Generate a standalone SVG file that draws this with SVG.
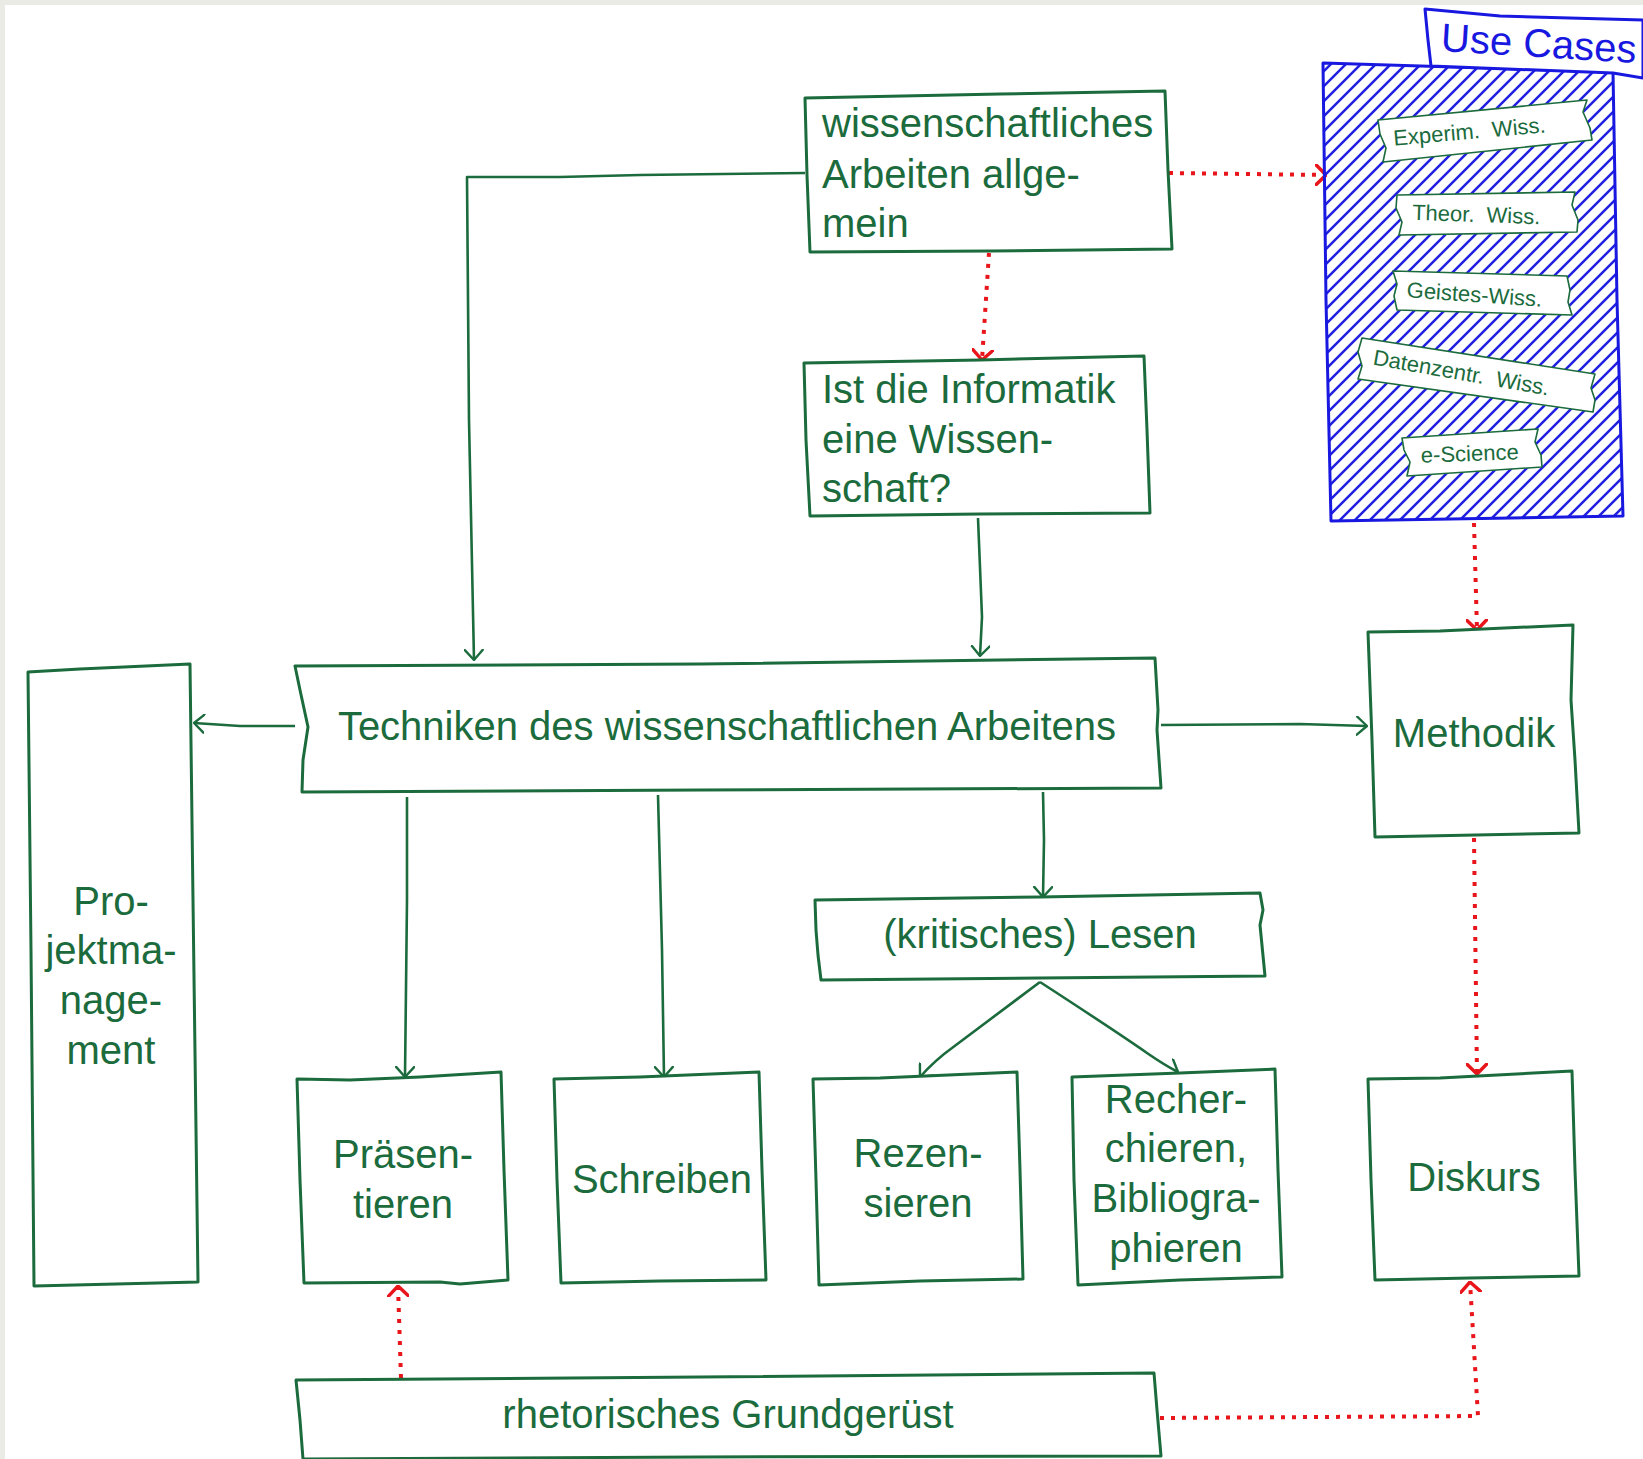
<svg xmlns="http://www.w3.org/2000/svg" width="1643" height="1459" viewBox="0 0 1643 1459">
<style>
.box{fill:#fff;stroke:#1b6b3d;stroke-width:3;stroke-linejoin:round}
.ban{fill:#fff;stroke:#1b6b3d;stroke-width:1.6;stroke-linejoin:round}
.lbl{font-family:"Liberation Sans",Arial,Helvetica,sans-serif;font-size:40px;fill:#1b6b3d}
.sm{font-family:"Liberation Sans",Arial,Helvetica,sans-serif;font-size:22px;fill:#1b6b3d;word-spacing:6px}
.mid{text-anchor:middle}
.conn{fill:none;stroke:#1b6b3d;stroke-width:2.6;stroke-linejoin:round}
.dot{fill:none;stroke:#e8151b;stroke-width:4;stroke-dasharray:4 7}
</style>
<defs>
<marker id="ag" markerUnits="userSpaceOnUse" viewBox="0 0 12 20" refX="11" refY="10" markerWidth="12" markerHeight="20" orient="auto">
<path d="M1,1 L11,10 L1,19" fill="none" stroke="#1b6b3d" stroke-width="2.4" stroke-linecap="round" stroke-linejoin="round"/>
</marker>
<marker id="ar" markerUnits="userSpaceOnUse" viewBox="0 0 12 22" refX="11" refY="11" markerWidth="12" markerHeight="22" orient="auto">
<path d="M1,1 L11,11 L1,21" fill="none" stroke="#e8151b" stroke-width="3.4" stroke-linecap="round" stroke-linejoin="round"/>
</marker>
<pattern id="hatch" patternUnits="userSpaceOnUse" width="15" height="15">
<path d="M-1,16 L16,-1 M-3,3 L3,-3 M12,18 L18,12" stroke="#2020e0" stroke-width="2.5"/>
</pattern>
</defs>
<rect width="1643" height="1459" fill="#ebebe6"/>
<rect x="5" y="5" width="1638" height="1454" fill="#ffffff"/>

<g id="connectors">
<path class="conn" d="M805,173 L640,175 L560,177 L467,177 L469,420 L474,660" marker-end="url(#ag)"/>
<path class="conn" d="M978,518 L982,617 L980,656" marker-end="url(#ag)"/>
<path class="conn" d="M295,726 L240,726 L194,723" marker-end="url(#ag)"/>
<path class="conn" d="M1161,725 L1300,724 L1367,726" marker-end="url(#ag)"/>
<path class="conn" d="M407,797 L407,900 L405,1077" marker-end="url(#ag)"/>
<path class="conn" d="M658,795 L662,950 L664,1077" marker-end="url(#ag)"/>
<path class="conn" d="M1043,792 L1044,840 L1043,897" marker-end="url(#ag)"/>
<path class="conn" d="M1040,982 C1000,1012 968,1036 952,1048 C938,1058 928,1068 920,1077" marker-end="url(#ag)"/>
<path class="conn" d="M1040,982 C1080,1008 1120,1034 1147,1053 C1160,1062 1170,1068 1178,1072" marker-end="url(#ag)"/>
<path class="dot" d="M989,253 L982,360" marker-end="url(#ar)"/>
<path class="dot" d="M1169,173 L1326,175" marker-end="url(#ar)"/>
<path class="dot" d="M1474,523 L1477,630" marker-end="url(#ar)"/>
<path class="dot" d="M1474,838 L1477,1074" marker-end="url(#ar)"/>
<path class="dot" d="M401,1378 L398,1286" marker-end="url(#ar)"/>
<path class="dot" d="M1160,1418 L1478,1416 L1470,1282" marker-end="url(#ar)"/>
</g>

<g id="usecases">
<path d="M1323,63 L1613,72 L1617,300 L1623,516 L1331,521 L1326,300 Z" fill="url(#hatch)" stroke="#1818e0" stroke-width="3" stroke-linejoin="round"/>
<path d="M1425,9 L1500,16 L1643,20 L1643,78 L1613,73 L1431,66 L1428,40 Z" fill="#fff" stroke="#1818e0" stroke-width="3" stroke-linejoin="round"/>
<text x="1538" y="57" font-family="'Liberation Sans',Arial,Helvetica,sans-serif" font-size="40" fill="#1818e0" text-anchor="middle" transform="rotate(3.5 1538 57)">Use Cases</text>
</g>
<g id="uc1">
<path class="ban" d="M1378,120 L1587,100 L1583,112 L1590,128 L1592,140 L1383,162 L1386,148 L1380,134 Z"/>
<text class="sm mid" x="1470" y="139" transform="rotate(-5 1470 139)">Experim. Wiss.</text>
</g>
<g id="uc2">
<path class="ban" d="M1397,195 L1575,192 L1572,205 L1578,220 L1577,232 L1399,235 L1402,222 L1396,208 Z"/>
<text class="sm mid" x="1476" y="222" transform="rotate(2 1476 222)">Theor. Wiss.</text>
</g>
<g id="uc3">
<path class="ban" d="M1393,271 L1567,276 L1570,290 L1568,302 L1572,315 L1397,310 L1394,296 L1397,284 Z"/>
<text class="sm mid" x="1474" y="302" transform="rotate(4 1474 302)" style="word-spacing:0">Geistes-Wiss.</text>
</g>
<g id="uc4">
<path class="ban" d="M1362,338 L1595,374 L1591,388 L1595,400 L1593,412 L1358,379 L1362,366 L1358,352 Z"/>
<text class="sm mid" x="1460" y="380" transform="rotate(10 1460 380)">Datenzentr. Wiss.</text>
</g>
<g id="uc5">
<path class="ban" d="M1402,438 L1538,429 L1535,442 L1541,455 L1542,467 L1407,476 L1410,462 L1404,450 Z"/>
<text class="sm mid" x="1470" y="461" transform="rotate(-2 1470 461)" style="word-spacing:0">e-Science</text>
</g>

<g id="wiss">
<path class="box" d="M805,98 L1000,94 L1165,91 L1168,170 L1172,249 L990,251 L810,252 L807,175 Z"/>
<text class="lbl" x="822" y="137">wissenschaftliches</text>
<text class="lbl" x="822" y="188">Arbeiten allge-</text>
<text class="lbl" x="822" y="237">mein</text>
</g>
<g id="informatik">
<path class="box" d="M804,363 L980,360 L1144,356 L1147,430 L1150,513 L980,514 L810,516 L806,440 Z"/>
<text class="lbl" x="822" y="403">Ist die Informatik</text>
<text class="lbl" x="822" y="453">eine Wissen-</text>
<text class="lbl" x="822" y="502">schaft?</text>
</g>
<g id="techniken">
<path class="box" d="M295,666 L700,664 L1155,658 L1158,710 L1157,730 L1161,788 L700,790 L302,792 L303,760 L308,727 L300,690 Z"/>
<text class="lbl mid" x="727" y="740">Techniken des wissenschaftlichen Arbeitens</text>
</g>
<g id="projekt">
<path class="box" d="M28,672 L80,669 L190,664 L193,900 L198,1282 L34,1286 L31,950 Z"/>
<text class="lbl mid" x="111" y="915">Pro-</text>
<text class="lbl mid" x="111" y="964">jektma-</text>
<text class="lbl mid" x="111" y="1014">nage-</text>
<text class="lbl mid" x="111" y="1064">ment</text>
</g>
<g id="methodik">
<path class="box" d="M1368,632 L1440,631 L1573,625 L1571,700 L1575,760 L1579,833 L1375,837 L1372,740 Z"/>
<text class="lbl mid" x="1474" y="747">Methodik</text>
</g>
<g id="lesen">
<path class="box" d="M815,900 L1040,897 L1260,893 L1263,910 L1260,925 L1265,976 L1040,978 L821,980 L818,955 L816,930 Z"/>
<text class="lbl mid" x="1040" y="948">(kritisches) Lesen</text>
</g>
<g id="praesentieren">
<path class="box" d="M297,1079 L350,1080 L420,1077 L501,1072 L504,1170 L508,1280 L460,1284 L440,1282 L304,1283 L300,1180 Z"/>
<text class="lbl mid" x="403" y="1168">Präsen-</text>
<text class="lbl mid" x="403" y="1218">tieren</text>
</g>
<g id="schreiben">
<path class="box" d="M554,1079 L640,1077 L759,1072 L762,1170 L766,1280 L660,1281 L561,1283 L557,1180 Z"/>
<text class="lbl mid" x="662" y="1193">Schreiben</text>
</g>
<g id="rezensieren">
<path class="box" d="M813,1079 L880,1078 L1017,1072 L1020,1170 L1023,1279 L920,1281 L819,1285 L816,1180 Z"/>
<text class="lbl mid" x="918" y="1167">Rezen-</text>
<text class="lbl mid" x="918" y="1217">sieren</text>
</g>
<g id="recherchieren">
<path class="box" d="M1072,1077 L1180,1073 L1275,1069 L1278,1170 L1282,1277 L1180,1280 L1078,1285 L1074,1180 Z"/>
<text class="lbl mid" x="1176" y="1113">Recher-</text>
<text class="lbl mid" x="1176" y="1162">chieren,</text>
<text class="lbl mid" x="1176" y="1212">Bibliogra-</text>
<text class="lbl mid" x="1176" y="1262">phieren</text>
</g>
<g id="diskurs">
<path class="box" d="M1368,1079 L1440,1078 L1572,1071 L1575,1170 L1579,1276 L1470,1278 L1375,1280 L1371,1180 Z"/>
<text class="lbl mid" x="1474" y="1191">Diskurs</text>
</g>
<g id="rhetorik">
<path class="box" d="M296,1380 L700,1377 L1154,1373 L1157,1410 L1161,1456 L700,1457 L303,1459 L300,1420 Z"/>
<text class="lbl mid" x="728" y="1428">rhetorisches Grundgerüst</text>
</g>
</svg>
